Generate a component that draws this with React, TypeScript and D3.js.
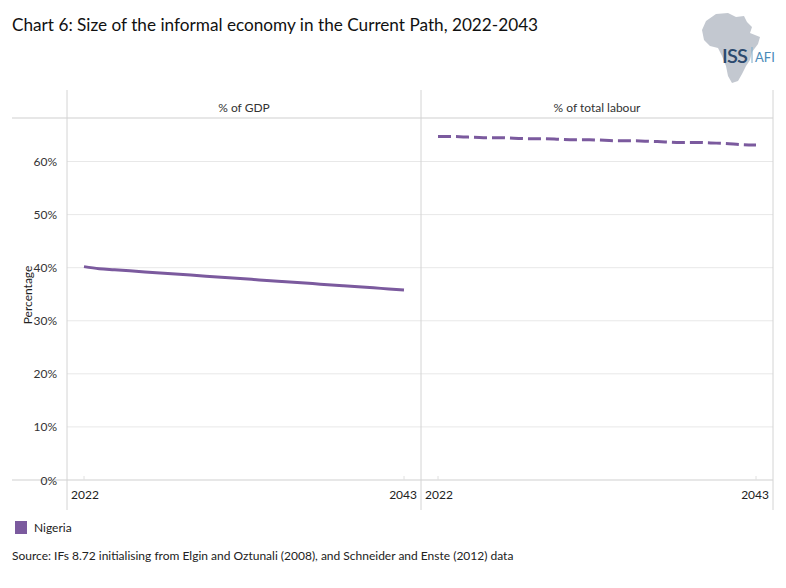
import * as d3 from "d3";

// 年份与数值
const years = d3.range(2022, 2044);
const gdpValues = [
  40.2, 39.8, 39.6, 39.4, 39.2, 39.0, 38.8, 38.6, 38.4, 38.2, 38.0,
  37.8, 37.6, 37.4, 37.2, 37.0, 36.8, 36.6, 36.4, 36.2, 36.0, 35.8,
];
const labourValues = [
  64.7, 64.7, 64.6, 64.5, 64.5, 64.4, 64.3, 64.3, 64.2, 64.1, 64.1,
  64.0, 63.9, 63.9, 63.8, 63.7, 63.6, 63.6, 63.5, 63.4, 63.2, 63.1,
];
const panelTitles = ["% of GDP", "% of total labour"];
const yTicks = [0, 10, 20, 30, 40, 50, 60];
const seriesName = "Nigeria";
const title = "Chart 6: Size of the informal economy in the Current Path, 2022-2043";
const source =
  "Source: IFs 8.72 initialising  from Elgin and Oztunali (2008), and Schneider and Enste (2012) data";

const FONT = "Lato, 'Open Sans', sans-serif";
const PURPLE = "#7b5a9e";

export default function App() {
  const W = 786;
  const H = 588;
  const panelEdges = [67, 421, 773];
  const headerTop = 90;
  const plotTop = 118;
  const plotBottom = 480;

  const yScale = d3.scaleLinear().domain([0, 68.2]).range([plotBottom, plotTop]);

  const panels = [
    { title: panelTitles[0], values: gdpValues, dashed: false },
    { title: panelTitles[1], values: labourValues, dashed: true },
  ];

  return (
    <svg
      width={W}
      height={H}
      viewBox={`0 0 ${W} ${H}`}
      style={{ position: "absolute", left: 0, top: 0, background: "#fff" }}
      fontFamily={FONT}
    >
      {/* 标题 */}
      <text x={12} y={31} fontSize={17.2} fill="#111">
        {title}
      </text>

      {/* Logo */}
      <g>
        <path
          d="M716,14 L728,13 L736,17 L744,16 L747,22 L752,27 L750,33 L760,37 L758,44 L752,52 L750,60 L746,66 L742,74 L738,81 L732,83 L728,76 L726,66 L722,56 L718,48 L710,46 L704,40 L702,30 L706,21 Z"
          fill="#c3c8d0"
        />
        <text x={722} y={63} fontSize={20} fontWeight={600} fill="#2c4a6e" letterSpacing={-0.8}>
          ISS
        </text>
        <line x1={752} x2={752} y1={47} y2={63} stroke="#7aaccc" strokeWidth={1} />
        <text x={755} y={62} fontSize={13} fill="#4a8ab8">
          AFI
        </text>
      </g>

      {/* 网格线 */}
      {yTicks.slice(1).map((t) => (
        <line
          key={t}
          x1={panelEdges[0]}
          x2={panelEdges[2]}
          y1={yScale(t)}
          y2={yScale(t)}
          stroke="#e8e8e8"
          strokeWidth={1}
        />
      ))}

      {/* 边框 */}
      <line x1={12} x2={panelEdges[2]} y1={plotTop} y2={plotTop} stroke="#cfcfcf" />
      <line x1={12} x2={panelEdges[2]} y1={plotBottom} y2={plotBottom} stroke="#cfcfcf" />
      {panelEdges.map((x) => (
        <line key={x} x1={x} x2={x} y1={headerTop} y2={510} stroke="#d4d4d4" />
      ))}

      {/* Y 轴标签 */}
      {yTicks.map((t) => (
        <text
          key={t}
          x={57}
          y={yScale(t) + 4.5}
          textAnchor="end"
          fontSize={12}
          fill="#333"
        >
          {t}%
        </text>
      ))}
      <text
        transform={`translate(32,295) rotate(-90)`}
        textAnchor="middle"
        fontSize={12}
        fill="#222"
      >
        Percentage
      </text>

      {panels.map((p, i) => {
        const x0 = panelEdges[i];
        const x1 = panelEdges[i + 1];
        const xScale = d3
          .scaleLinear()
          .domain([years[0], years[years.length - 1]])
          .range([x0 + 17, x1 - 17]);
        const line = d3
          .line<number>()
          .x((_, j) => xScale(years[j]))
          .y((d) => yScale(d))
          .curve(d3.curveMonotoneX);
        return (
          <g key={p.title}>
            <text
              x={(x0 + x1) / 2}
              y={112}
              textAnchor="middle"
              fontSize={12}
              fill="#333"
            >
              {p.title}
            </text>
            {[years[0], years[years.length - 1]].map((yr) => (
              <line
                key={yr}
                x1={xScale(yr)}
                x2={xScale(yr)}
                y1={plotBottom}
                y2={plotBottom - 4}
                stroke="#e0e0e0"
              />
            ))}
            <text x={x0 + 4} y={499} fontSize={12} fill="#222">
              {years[0]}
            </text>
            <text x={x1 - 4} y={499} fontSize={12} fill="#222" textAnchor="end">
              {years[years.length - 1]}
            </text>
            <path
              d={line(p.values) || ""}
              fill="none"
              stroke={PURPLE}
              strokeWidth={3}
              strokeDasharray={p.dashed ? "13,5" : undefined}
            />
          </g>
        );
      })}

      {/* 图例 */}
      <rect x={15} y={521} width={12} height={13} fill={PURPLE} />
      <text x={34} y={532} fontSize={12} fill="#222">
        {seriesName}
      </text>

      {/* 来源 */}
      <text x={12} y={560} fontSize={12} fill="#222">
        {source}
      </text>
    </svg>
  );
}
